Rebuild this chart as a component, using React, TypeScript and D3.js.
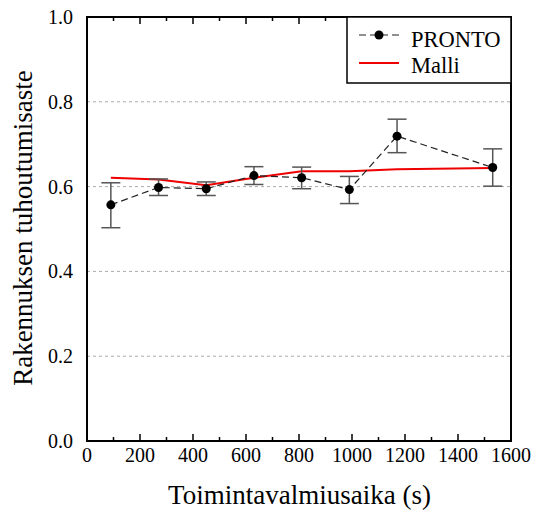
import React from "react";
import * as d3 from "d3";

const prontoX = [90, 270, 450, 630, 810, 990, 1170, 1531];
const prontoY = [0.557, 0.598, 0.595, 0.626, 0.621, 0.593, 0.719, 0.645];
const prontoHi = [0.609, 0.618, 0.611, 0.647, 0.646, 0.624, 0.759, 0.689];
const prontoLo = [0.503, 0.579, 0.579, 0.605, 0.595, 0.560, 0.680, 0.601];
const malliX = [90, 270, 450, 630, 810, 990, 1170, 1531];
const malliY = [0.621, 0.617, 0.603, 0.621, 0.636, 0.636, 0.641, 0.644];
const xTicks = [0, 200, 400, 600, 800, 1000, 1200, 1400, 1600];
const xMinor = [100, 300, 500, 700, 900, 1100, 1300, 1500];
const yTicks = [0.0, 0.2, 0.4, 0.6, 0.8, 1.0];
const xTitle = "Toimintavalmiusaika (s)";
const yTitle = "Rakennuksen tuhoutumisaste";
const seriesNames = ["PRONTO", "Malli"];

const W = 539, H = 514;
const L = 87, R = 511, T = 17, B = 441;

export default function App() {
  const x = d3.scaleLinear().domain([0, 1600]).range([L, R]);
  const y = d3.scaleLinear().domain([0, 1]).range([B, T]);
  const line = d3.line<number>().x((_, i) => x(prontoX[i])).y((d) => y(d));
  const mline = d3.line<number>().x((_, i) => x(malliX[i])).y((d) => y(d));
  return (
    <div style={{ margin: -8 }}>
      <svg width={W} height={H}>
        <rect x={0} y={0} width={W} height={H} fill="white" />
        {yTicks.filter((t) => t > 0 && t < 1).map((t) => (
          <line key={t} x1={L} x2={R} y1={y(t)} y2={y(t)} stroke="#aaa" strokeWidth={1} strokeDasharray="3,3" />
        ))}
        {xTicks.map((t) => (
          <g key={t}>
            <line x1={x(t)} x2={x(t)} y1={B} y2={B - 7} stroke="black" strokeWidth={1.5} />
            <line x1={x(t)} x2={x(t)} y1={T} y2={T + 7} stroke="black" strokeWidth={1.5} />
          </g>
        ))}
        {xMinor.map((t) => (
          <g key={t}>
            <line x1={x(t)} x2={x(t)} y1={B} y2={B - 4} stroke="black" strokeWidth={1.5} />
            <line x1={x(t)} x2={x(t)} y1={T} y2={T + 4} stroke="black" strokeWidth={1.5} />
          </g>
        ))}
        {xTicks.map((t) => (
          <text key={"l" + t} x={x(t)} y={462} textAnchor="middle" fontSize={20} style={{ fontFamily: `"Liberation Serif", monospace` }}>{t}</text>
        ))}
        {yTicks.map((t) => (
          <text key={t} x={73} y={y(t) + 7} textAnchor="end" fontSize={20} style={{ fontFamily: `"Liberation Serif", monospace` }}>{t.toFixed(1)}</text>
        ))}
        <path d={mline(malliY) || ""} fill="none" stroke="#ee0000" strokeWidth={2} />
        <path d={line(prontoY) || ""} fill="none" stroke="#222" strokeWidth={1.2} strokeDasharray="7,4" />
        {prontoX.map((v, i) => (
          <g key={i} stroke="#555" strokeWidth={1.5}>
            <line x1={x(v)} x2={x(v)} y1={y(prontoHi[i])} y2={y(prontoLo[i])} />
            <line x1={x(v) - 9.5} x2={x(v) + 9.5} y1={y(prontoHi[i])} y2={y(prontoHi[i])} />
            <line x1={x(v) - 9.5} x2={x(v) + 9.5} y1={y(prontoLo[i])} y2={y(prontoLo[i])} />
          </g>
        ))}
        {prontoX.map((v, i) => (
          <circle key={i} cx={x(v)} cy={y(prontoY[i])} r={4.5} fill="black" />
        ))}
        <rect x={L} y={T} width={R - L} height={B - T} fill="none" stroke="black" strokeWidth={2} />
        <rect x={347} y={T} width={R - 347} height={66} fill="white" stroke="black" strokeWidth={1.5} />
        <line x1={359} x2={399} y1={35} y2={35} stroke="#222" strokeWidth={1.2} strokeDasharray="7,4" />
        <circle cx={379} cy={35} r={4.5} fill="black" />
        <text x={411} y={46.5} fontSize={22.5} style={{ fontFamily: `"Liberation Serif", monospace` }}>{seriesNames[0]}</text>
        <line x1={359} x2={399} y1={63} y2={63} stroke="#ee0000" strokeWidth={2} />
        <text x={411} y={72.5} fontSize={22.5} style={{ fontFamily: `"Liberation Serif", monospace` }}>{seriesNames[1]}</text>
        <text x={(L + R) / 2 + 0.5} y={504} textAnchor="middle" fontSize={27} style={{ fontFamily: `"Liberation Serif", monospace` }}>{xTitle}</text>
        <text transform={`translate(32,228) rotate(-90)`} textAnchor="middle" fontSize={27} style={{ fontFamily: `"Liberation Serif", monospace` }}>{yTitle}</text>
      </svg>
    </div>
  );
}
